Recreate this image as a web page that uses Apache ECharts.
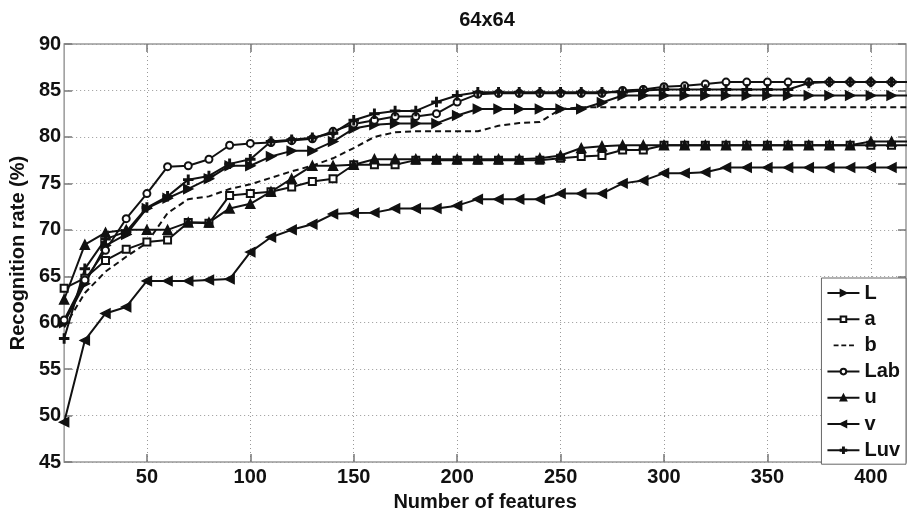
<!DOCTYPE html>
<html>
<head>
<meta charset="utf-8">
<title>64x64</title>
<script src="https://cdn.jsdelivr.net/npm/echarts@6/dist/echarts.min.js"></script>
<style>
  html, body { margin: 0; padding: 0; background: #fff; }
  #chart { width: 907px; height: 517px; }
</style>
</head>
<body>
<div id="chart"></div>
<script>
// Number of features used for each recognition run
const features = [10, 20, 30, 40, 50, 60, 70, 80, 90, 100,
  110, 120, 130, 140, 150, 160, 170, 180, 190, 200,
  210, 220, 230, 240, 250, 260, 270, 280, 290, 300,
  310, 320, 330, 340, 350, 360, 370, 380, 390, 400,
  410, 420];

// Recognition rate (%) per colour channel / space
const rateL = [60.0, 64.2, 68.3, 69.5, 72.3, 73.4, 74.4, 75.5, 76.9, 76.9,
  77.9, 78.5, 78.5, 79.5, 80.9, 81.3, 81.45, 81.45, 81.45, 82.3,
  83.0, 83.0, 83.0, 83.0, 83.0, 83.0, 83.7, 84.45, 84.45, 84.45,
  84.45, 84.45, 84.45, 84.45, 84.45, 84.45, 84.45, 84.45, 84.45, 84.45,
  84.45, 84.45];
const rateA = [63.7, 64.8, 66.7, 67.9, 68.7, 68.9, 70.8, 70.7, 73.7, 73.9,
  74.1, 74.6, 75.2, 75.5, 77.0, 77.0, 77.0, 77.5, 77.5, 77.5,
  77.5, 77.5, 77.5, 77.5, 77.7, 77.9, 78.0, 78.6, 78.6, 79.1,
  79.1, 79.1, 79.1, 79.1, 79.1, 79.1, 79.1, 79.1, 79.1, 79.1,
  79.1, 79.1];
const rateB = [59.5, 63.2, 65.5, 67.1, 68.6, 71.8, 73.3, 73.6, 74.4, 74.9,
  75.6, 76.3, 76.9, 77.7, 78.8, 80.0, 80.5, 80.6, 80.6, 80.6,
  80.6, 81.2, 81.5, 81.6, 83.0, 83.2, 83.2, 83.2, 83.2, 83.2,
  83.2, 83.2, 83.2, 83.2, 83.2, 83.2, 83.2, 83.2, 83.2, 83.2,
  83.2, 83.2];
const rateLab = [60.3, 64.6, 67.8, 71.2, 73.9, 76.8, 76.9, 77.6, 79.1, 79.3,
  79.4, 79.6, 79.8, 80.6, 81.4, 81.8, 82.2, 82.2, 82.5, 83.75,
  84.6, 84.7, 84.7, 84.7, 84.7, 84.7, 84.7, 85.0, 85.1, 85.4,
  85.5, 85.7, 85.9, 85.9, 85.9, 85.9, 85.9, 85.9, 85.9, 85.9,
  85.9, 85.9];
const rateU = [62.5, 68.4, 69.7, 70.0, 70.0, 70.0, 70.8, 70.8, 72.3, 72.8,
  74.1, 75.5, 76.9, 76.9, 77.0, 77.6, 77.6, 77.6, 77.6, 77.6,
  77.6, 77.6, 77.6, 77.7, 78.0, 78.8, 79.0, 79.1, 79.1, 79.1,
  79.1, 79.1, 79.1, 79.1, 79.1, 79.1, 79.1, 79.1, 79.1, 79.5,
  79.5, 79.5];
const rateV = [49.3, 58.1, 61.0, 61.7, 64.5, 64.5, 64.5, 64.6, 64.7, 67.6,
  69.2, 70.0, 70.6, 71.7, 71.8, 71.85, 72.3, 72.3, 72.3, 72.6,
  73.3, 73.3, 73.3, 73.3, 73.9, 73.9, 73.9, 75.0, 75.3, 76.1,
  76.1, 76.2, 76.7, 76.7, 76.7, 76.7, 76.7, 76.7, 76.7, 76.7,
  76.7, 76.7];
const rateLuv = [58.3, 65.8, 69.0, 69.8, 72.4, 73.6, 75.4, 75.8, 77.1, 77.6,
  79.5, 79.7, 79.9, 80.4, 81.8, 82.5, 82.8, 82.8, 83.75, 84.45,
  84.8, 84.8, 84.8, 84.8, 84.8, 84.8, 84.8, 84.8, 85.0, 85.1,
  85.1, 85.1, 85.1, 85.1, 85.1, 85.1, 85.8, 85.9, 85.9, 85.9,
  85.9, 85.9];

// Tick labels
const xTicks = [50, 100, 150, 200, 250, 300, 350, 400];

const FONT = '"Liberation Sans", Arial, Helvetica, sans-serif';
const INK = '#111';
const PLUS = 'path://M4.2,0H5.8V4.2H10V5.8H5.8V10H4.2V5.8H0V4.2H4.2Z';
// three short dashes for the legend entry of the dashed line
// (the hair-thin first rect only fixes the icon's height box)
const DASHES = 'path://M0,0H0.001V10H0Z M1,3.8H8V6.2H1Z M12,3.8H19V6.2H12Z M23,3.8H30V6.2H23Z';

function pairs(values) {
  return features.map((f, i) => [f, values[i]]);
}

function lineSeries(name, values, symbol, size, extra) {
  return Object.assign({
    name: name,
    type: 'line',
    data: pairs(values),
    symbol: symbol,
    symbolSize: size,
    clip: true,
    lineStyle: { color: INK, width: 2 },
    itemStyle: { color: INK, borderColor: INK, borderWidth: 1.5 },
    emphasis: { disabled: true }
  }, extra || {});
}

const boldText = { fontFamily: FONT, fontSize: 20, fontWeight: 'bold', color: INK };
const tickStyle = { color: '#777', width: 1.5 };
const gridLine = { show: true, lineStyle: { type: [1, 3], color: '#999', width: 1 } };

const option = {
  animation: false,
  backgroundColor: '#fff',
  title: {
    text: '64x64',
    left: 487,
    top: 10,
    padding: 0,
    textAlign: 'center',
    textStyle: { fontFamily: FONT, fontSize: 20, fontWeight: 'bold', color: INK }
  },
  grid: {
    left: 64, right: 1, top: 44, bottom: 47.5,
    show: true, borderColor: '#999', borderWidth: 1.5,
    containLabel: false
  },
  legend: {
    orient: 'vertical',
    right: 1,
    top: 278,
    align: 'left',
    itemWidth: 32,
    itemHeight: 7,
    itemGap: 6.2,
    padding: [5, 6, 4, 5],
    backgroundColor: '#fff',
    borderColor: '#666',
    borderWidth: 1,
    borderRadius: 0,
    textStyle: Object.assign({ lineHeight: 20 }, boldText),
    data: ['L', 'a',
      { name: 'b', icon: DASHES, itemStyle: { color: INK, borderWidth: 0 } },
      'Lab', 'u', 'v', 'Luv']
  },
  xAxis: [{
    type: 'value',
    min: 10,
    max: 417,
    position: 'bottom',
    axisLine: { show: false },
    axisTick: { inside: true, length: 8, customValues: xTicks, lineStyle: tickStyle },
    axisLabel: Object.assign({ customValues: xTicks, margin: 5 }, boldText),
    splitLine: gridLine,
    name: 'Number of features',
    nameLocation: 'middle',
    nameGap: 24,
    nameTextStyle: boldText
  }, {
    type: 'value',
    min: 10,
    max: 417,
    position: 'top',
    axisLine: { show: false },
    axisTick: { inside: true, length: 8, customValues: xTicks, lineStyle: tickStyle },
    axisLabel: { show: false },
    splitLine: { show: false }
  }],
  yAxis: [{
    type: 'value',
    min: 45,
    max: 90,
    interval: 5,
    position: 'left',
    axisLine: { show: false },
    axisTick: { inside: true, length: 8, lineStyle: tickStyle },
    axisLabel: Object.assign({ margin: 3 }, boldText),
    splitLine: gridLine,
    name: 'Recognition rate (%)',
    nameLocation: 'middle',
    nameRotate: 90,
    nameGap: 32,
    nameTextStyle: boldText
  }, {
    type: 'value',
    min: 45,
    max: 90,
    interval: 5,
    position: 'right',
    axisLine: { show: false },
    axisTick: { inside: true, length: 8, lineStyle: tickStyle },
    axisLabel: { show: false },
    splitLine: { show: false }
  }],
  series: [
    lineSeries('L', rateL, 'triangle', 9, { symbolRotate: -90 }),
    lineSeries('a', rateA, 'emptyRect', 7),
    lineSeries('b', rateB, 'none', 0, { lineStyle: { color: INK, width: 2, type: [6, 4] } }),
    lineSeries('Lab', rateLab, 'emptyCircle', 7),
    lineSeries('u', rateU, 'triangle', 9),
    lineSeries('v', rateV, 'triangle', 9, { symbolRotate: 90 }),
    lineSeries('Luv', rateLuv, PLUS, 9)
  ]
};

const chart = echarts.init(document.getElementById('chart'), null, { renderer: 'canvas' });
chart.setOption(option);
</script>
</body>
</html>
